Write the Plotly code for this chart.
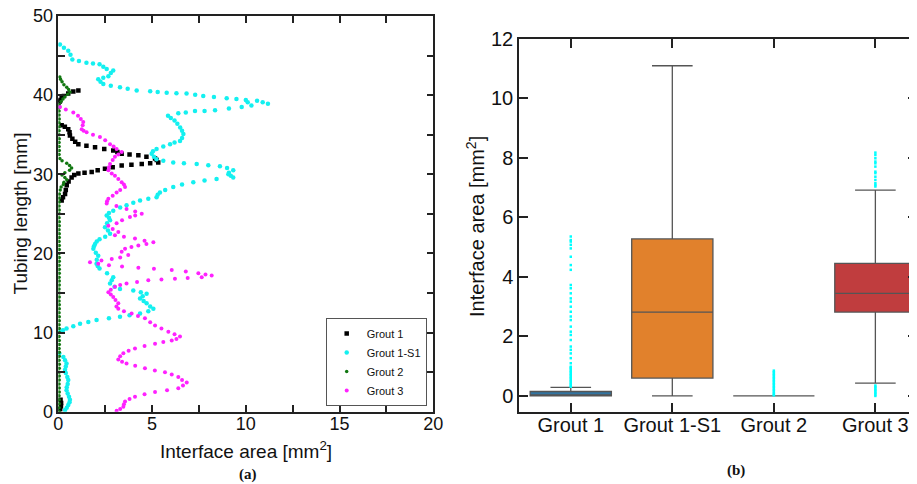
import plotly.graph_objects as go

# ---------------- Panel (a) data: interface area [mm^2] vs tubing length [mm]
g1_y = [40.6, 40.45, 40.2, 39.9, 39.7, 39.4, 39.2, 36.2, 36.0, 35.7, 35.3, 34.9, 34.5, 34.1,
        33.8, 33.6, 33.4, 33.2, 33.0, 32.8, 32.6, 32.5, 32.4, 32.2, 32.0, 31.8, 31.5, 31.4,
        31.3, 31.2, 31.1, 30.9, 30.7, 30.5, 30.3, 30.2, 30.1, 29.9, 29.6, 29.1, 28.6, 28.0,
        27.5, 27.1, 26.7, 1.5, 1.1, 0.7, 0.3]
g1_x = [1.07, 0.8, 0.53, 0.3, 0.18, 0.1, 0.08, 0.18, 0.35, 0.53, 0.6, 0.62, 0.75, 0.9,
        1.07, 1.5, 1.96, 2.45, 2.93, 3.15, 3.38, 3.8, 4.27, 4.7, 5.16, 5.25, 5.33, 4.9,
        4.45, 3.9, 3.38, 2.9, 2.49, 2.1, 1.78, 1.4, 1.07, 0.85, 0.71, 0.55, 0.45, 0.4,
        0.36, 0.25, 0.18, 0.12, 0.15, 0.14, 0.1]

g1s1_y = [46.4, 46.0, 45.6, 45.1, 44.5, 44.3, 44.1, 44.0, 43.9, 43.6, 43.3, 43.1, 42.8, 42.4,
          42.2, 42.0, 41.7, 41.4, 41.2, 41.0, 40.8, 40.6, 40.5, 40.4, 40.3, 40.25, 40.2, 40.05,
          39.9, 39.75, 39.6, 39.5, 39.4, 39.3, 39.1, 38.9, 39.1, 38.7, 38.5, 38.3, 38.1, 38.0,
          38.0, 37.8, 37.7, 37.4, 37.1, 36.8, 36.4, 35.9, 35.5, 35.1, 34.6, 34.2, 34.0, 33.8,
          33.5, 33.2, 32.9, 32.6, 32.2, 31.9, 31.7, 31.5, 31.4, 31.3, 31.15, 31.0, 30.8, 30.5,
          30.2, 30.0, 29.8, 29.6, 29.4, 29.2, 29.0, 28.7, 28.4, 28.0, 27.7, 27.4, 27.1, 26.9,
          26.7, 26.4, 26.1, 25.8, 25.4, 25.1, 24.8, 24.5, 24.2, 23.8, 23.3, 22.9, 22.5, 22.1,
          21.8, 21.5, 21.2, 20.9, 20.6, 20.1, 19.7, 19.2, 18.7, 18.4, 18.1, 17.5, 17.0, 16.6,
          16.2, 15.8, 15.5, 15.3, 15.1, 14.9, 14.6, 14.3, 14.0, 13.7, 13.3, 13.0, 12.7, 12.4,
          12.2, 12.0, 11.8, 11.6, 11.35, 11.1, 10.8, 10.5, 10.3, 10.1, 7.4, 6.9, 6.5, 6.1,
          5.7, 5.3, 4.9, 4.4, 4.0, 3.5, 3.1, 2.7, 2.3, 1.9, 1.5, 1.2, 0.84, 0.5, 0.2]
g1s1_x = [0.09, 0.3, 0.53, 0.65, 0.75, 1.1, 1.5, 1.85, 2.2, 2.4, 2.58, 2.93, 2.8, 2.67,
          2.4, 2.13, 2.25, 2.4, 2.8, 3.29, 3.7, 4.18, 4.9, 5.3, 5.78, 6.3, 6.84, 7.3,
          7.73, 8.3, 8.98, 9.5, 10.0, 10.6, 10.9, 11.18, 10.1, 10.3, 9.78, 9.1, 8.36, 7.8,
          7.29, 6.8, 6.4, 5.85, 6.0, 6.2, 6.35, 6.5, 6.6, 6.67, 6.6, 6.49, 6.2, 5.96,
          5.6, 5.24, 5.05, 4.98, 5.1, 5.24, 5.6, 6.13, 6.7, 7.38, 8.0, 8.62, 9.0, 9.33,
          9.1, 9.07, 9.2, 9.33, 8.44, 7.8, 7.2, 6.6, 6.13, 5.7, 5.42, 5.3, 5.24, 4.8,
          4.36, 4.0, 3.64, 3.3, 2.93, 2.7, 2.58, 2.7, 2.76, 2.6, 2.49, 2.65, 2.76, 2.5,
          2.2, 2.05, 1.96, 1.9, 1.87, 2.0, 2.13, 2.05, 2.04, 2.1, 2.2, 2.6, 2.93, 2.85,
          2.76, 3.0, 3.29, 4.0, 4.4, 4.71, 4.5, 4.36, 4.55, 4.71, 4.9, 5.07, 4.8, 4.36,
          3.8, 3.29, 2.7, 2.04, 1.6, 1.16, 0.8, 0.44, 0.25, 0.09, 0.05, 0.27, 0.36, 0.44,
          0.4, 0.36, 0.4, 0.48, 0.53, 0.5, 0.45, 0.44, 0.5, 0.57, 0.62, 0.6, 0.53, 0.45, 0.36]

g2_y = [42.3, 42.0, 41.7, 41.3, 41.0, 40.7, 40.4, 40.1, 39.8, 39.5, 39.2, 38.8, 38.4, 38.0,
        37.5, 37.0, 36.5, 36.0, 35.5, 35.0, 34.5, 34.0, 33.5, 33.0, 32.5, 32.0, 31.7, 31.4,
        31.1, 30.8, 30.5, 30.2, 29.9, 29.6, 29.3, 29.0, 28.7, 28.4, 28.0, 27.5, 27.0, 26.5,
        26.0, 25.5, 25.0, 24.5, 24.0, 23.5, 23.0, 22.5, 22.0, 21.5, 21.0, 20.5, 20.0, 19.5,
        19.0, 18.5, 18.0, 17.5, 17.0, 16.5, 16.0, 15.5, 15.0, 14.5, 14.0, 13.5, 13.0, 12.5,
        12.0, 11.5, 11.0, 10.5, 10.0, 9.5, 9.0, 8.5, 8.0, 7.5, 7.0, 6.5, 6.0, 5.5, 5.0, 4.5,
        4.0, 3.5, 3.0, 2.5, 2.0, 1.5, 1.0, 0.5, 0.0]
g2_x = [0.08, 0.12, 0.2, 0.3, 0.45, 0.55, 0.62, 0.5, 0.35, 0.25, 0.15, 0.05, 0.04, 0.04,
        0.04, 0.05, 0.04, 0.05, 0.04, 0.04, 0.05, 0.04, 0.04, 0.05, 0.04, 0.08, 0.2, 0.45,
        0.6, 0.71, 0.6, 0.35, 0.2, 0.35, 0.45, 0.3, 0.27, 0.15, 0.1, 0.06, 0.05, 0.05,
        0.04, 0.05, 0.05, 0.04, 0.05, 0.05, 0.04, 0.05, 0.05, 0.04, 0.05, 0.05, 0.04, 0.05,
        0.05, 0.04, 0.05, 0.05, 0.04, 0.05, 0.05, 0.04, 0.05, 0.05, 0.04, 0.05, 0.05, 0.04,
        0.05, 0.05, 0.04, 0.05, 0.05, 0.04, 0.05, 0.05, 0.04, 0.05, 0.05, 0.04, 0.05, 0.05,
        0.04, 0.05, 0.05, 0.04, 0.05, 0.05, 0.04, 0.05, 0.05, 0.04, 0.05]

g3_y = [38.5, 38.2, 37.8, 37.4, 37.0, 36.6, 36.2, 35.7, 35.5, 35.3, 35.0, 34.7, 34.3, 33.8,
        33.5, 33.2, 32.8, 32.5, 32.2, 31.8, 31.3, 30.9, 30.5, 30.1, 29.8, 29.4, 29.0, 28.7,
        28.4, 28.0, 27.7, 27.3, 26.9, 26.6, 26.3, 26.0, 25.6, 25.3, 25.0, 24.8, 24.6, 24.2,
        23.8, 23.5, 23.1, 22.7, 22.3, 22.1, 21.9, 21.6, 21.4, 21.2, 21.0, 20.8, 20.6, 20.2,
        19.8, 19.5, 19.3, 19.1, 18.9, 18.7, 18.5, 18.35, 18.2, 18.05, 17.9, 17.7, 17.5, 17.35,
        17.2, 17.0, 16.9, 16.8, 16.7, 16.6, 16.4, 16.2, 16.0, 15.8, 15.4, 15.1, 14.8, 14.5,
        14.1, 13.7, 13.3, 13.0, 12.7, 12.4, 12.1, 11.8, 11.3, 10.9, 10.5, 10.1, 9.8, 9.5,
        9.2, 9.0, 8.8, 8.6, 8.3, 8.0, 7.7, 7.4, 7.0, 6.6, 6.3, 6.1, 5.8, 5.5, 5.2, 5.0,
        4.7, 4.4, 4.0, 3.7, 3.3, 2.95, 2.7, 2.5, 2.2, 1.9, 1.6, 1.3, 0.95, 0.63, 0.35, 0.13]
g3_x = [0.09, 0.4, 0.8, 1.05, 1.2, 1.33, 1.3, 1.25, 1.35, 1.51, 1.85, 2.22, 2.5, 2.76,
        2.95, 3.11, 3.38, 3.2, 3.02, 2.9, 2.76, 2.7, 2.67, 2.85, 3.02, 3.2, 3.38, 3.5,
        3.56, 3.3, 3.11, 2.9, 2.67, 2.6, 2.58, 3.1, 3.64, 4.1, 4.45, 4.1, 3.82, 3.4,
        3.11, 2.67, 2.9, 3.2, 3.02, 3.5, 4.09, 4.6, 5.07, 4.7, 4.27, 3.9, 3.56, 3.38,
        3.73, 3.3, 2.85, 2.3, 1.69, 2.13, 2.7, 3.4, 4.27, 5.1, 6.05, 6.8, 7.47, 7.85,
        8.18, 7.65, 6.9, 6.22, 5.5, 4.8, 4.2, 3.64, 3.3, 3.02, 2.8, 2.67, 2.8, 2.93,
        3.05, 3.2, 3.1, 3.2, 3.5, 3.91, 4.25, 4.62, 4.9, 5.16, 5.5, 5.87, 6.2, 6.49,
        6.3, 6.05, 5.6, 5.16, 4.6, 4.09, 3.75, 3.47, 3.3, 3.2, 3.4, 3.64, 4.1, 4.62, 5.15, 5.69,
        6.05, 6.4, 6.6, 6.85, 6.65, 6.4, 5.8, 5.16, 4.6, 4.09, 3.8, 3.56, 3.5, 3.47, 3.3, 3.11]

# ---------------- Panel (b) data: box statistics
categories = ["Grout 1", "Grout 1-S1", "Grout 2", "Grout 3"]
q1 = [0.0, 0.6, 0.0, 2.82]
median = [0.03, 2.82, 0.0, 3.45]
q3 = [0.15, 5.28, 0.0, 4.46]
lowerfence = [0.0, 0.0, 0.0, 0.43]
upperfence = [0.29, 11.1, 0.0, 6.92]
box_colors = ["#3274A1", "#E1812C", "#3A923A", "#C03D3E"]

out_g1 = [5.36, 5.24, 5.19, 5.08, 4.96, 4.68, 4.40, 4.24, 3.73, 3.62, 3.45, 3.28, 3.17, 3.0,
          2.83, 2.67, 2.55, 2.33, 2.16, 2.05, 1.88, 1.66, 1.55, 1.43, 1.27, 1.10, 0.98, 0.95,
          0.9, 0.85, 0.8, 0.75, 0.7, 0.65, 0.6, 0.55, 0.5, 0.45, 0.4, 0.35, 0.31]
out_g2 = [0.85, 0.8, 0.75, 0.7, 0.65, 0.6, 0.55, 0.5, 0.45, 0.4, 0.35, 0.3, 0.25, 0.2,
          0.15, 0.1, 0.05, 0.02]
out_g3 = [8.18, 8.10, 7.99, 7.88, 7.82, 7.71, 7.54, 7.49, 7.37, 7.26, 7.15, 7.09, 7.04,
          0.35, 0.3, 0.25, 0.2, 0.15, 0.1, 0.05, 0.0]

# The page body has an 8 px margin: figure is drawn from (8, 8) in the window.
W, H, OFF = 909, 476, 8


def px(xp):
    return (xp - OFF) / W


def py(yp):
    return (H + OFF - yp) / H


fig = go.Figure()

series = [
    ("Grout 1", g1_x, g1_y, "#000000", "square", 4.5),
    ("Grout 1-S1", g1s1_x, g1s1_y, "#14F0F0", "circle", 4.5),
    ("Grout 2", g2_x, g2_y, "#117711", "circle", 3.5),
    ("Grout 3", g3_x, g3_y, "#FF22FF", "circle", 4),
]
for name, xs, ys, col, sym, sz in series:
    fig.add_trace(go.Scatter(x=xs, y=ys, mode="markers", name=name,
                             marker=dict(color=col, symbol=sym, size=sz, line=dict(width=0)),
                             xaxis="x", yaxis="y"))

for i, cat in enumerate(categories):
    fig.add_trace(go.Box(x=[cat], q1=[q1[i]], median=[median[i]], q3=[q3[i]],
                         lowerfence=[lowerfence[i]], upperfence=[upperfence[i]],
                         fillcolor=box_colors[i], line=dict(color="#555555", width=1.3),
                         width=0.8, whiskerwidth=0.5, boxpoints=False, showlegend=False,
                         xaxis="x2", yaxis="y2"))

out_x = ["Grout 1"] * len(out_g1) + ["Grout 2"] * len(out_g2) + ["Grout 3"] * len(out_g3)
out_y = out_g1 + out_g2 + out_g3
fig.add_trace(go.Scatter(x=out_x, y=out_y, mode="markers", showlegend=False,
                         marker=dict(color="#00FFFF", symbol="square", size=2.5, line=dict(width=0)),
                         xaxis="x2", yaxis="y2"))

axis_common = dict(showline=True, linecolor="#222222", linewidth=1.5, mirror="ticks",
                   ticks="inside", tickcolor="#222222", tickwidth=1.5, showgrid=False,
                   zeroline=False, automargin=False, ticklabeloverflow="allow",
                   tickfont=dict(family="Liberation Sans", size=18, color="#111111"))
big_font = dict(family="Liberation Sans", size=20, color="#111111")

fig.update_layout(
    width=W, height=H,
    margin=dict(l=0, r=0, t=0, b=0, autoexpand=False),
    paper_bgcolor="white", plot_bgcolor="white",
    font=dict(family="Liberation Sans", color="#111111"),
    showlegend=True,
    boxmode="overlay",
    legend=dict(x=px(426.7), y=py(406), xanchor="right", yanchor="bottom",
                bgcolor="white", bordercolor="#555555", borderwidth=1,
                font=dict(family="Liberation Sans", size=11, color="#111111"),
                itemsizing="trace"),
    xaxis=dict(domain=[px(58.3), px(433.3)], range=[0, 20], dtick=5, ticklen=7, anchor="y",
               ticklabelstandoff=-5,
               minor=dict(dtick=2.5, ticks="inside", ticklen=7, tickcolor="#222222", showgrid=False),
               **axis_common),
    yaxis=dict(domain=[py(411.7), py(16)], range=[0, 50], dtick=10, ticklen=7, anchor="x",
               minor=dict(dtick=5, ticks="inside", ticklen=7, tickcolor="#222222", showgrid=False),
               **axis_common),
    xaxis2=dict(domain=[px(519), 1.0], type="category", categoryorder="array",
                categoryarray=categories, range=[-0.51, 3.41], ticklen=9, anchor="y2",
                ticklabelstandoff=-6,
                **{**axis_common, "tickfont": big_font}),
    yaxis2=dict(domain=[py(412), py(39)], range=[-0.54, 12], dtick=2, ticklen=9, anchor="x2",
                **{**axis_common, "tickfont": big_font}),
    annotations=[
        dict(text="Interface area [mm<sup>2</sup>]", x=px(246), y=py(450), xref="paper", yref="paper",
             xanchor="center", yanchor="middle", showarrow=False,
             font=dict(family="Liberation Sans", size=19, color="#111111")),
        dict(text="Tubing length [mm]", x=px(19.5), y=py(214), xref="paper", yref="paper",
             xanchor="center", yanchor="middle", textangle=-90, showarrow=False,
             font=dict(family="Liberation Sans", size=19, color="#111111")),
        dict(text="Interface area [mm<sup>2</sup>]", x=px(475), y=py(227), xref="paper", yref="paper",
             xanchor="center", yanchor="middle", textangle=-90, showarrow=False,
             font=big_font),
        dict(text="<b>(a)</b>", x=px(248), y=py(474), xref="paper", yref="paper",
             xanchor="center", yanchor="middle", showarrow=False,
             font=dict(family="Liberation Serif", size=15, color="#111111")),
        dict(text="<b>(b)</b>", x=px(736), y=py(470), xref="paper", yref="paper",
             xanchor="center", yanchor="middle", showarrow=False,
             font=dict(family="Liberation Serif", size=15, color="#111111")),
    ],
)

fig.write_html("out.html")
